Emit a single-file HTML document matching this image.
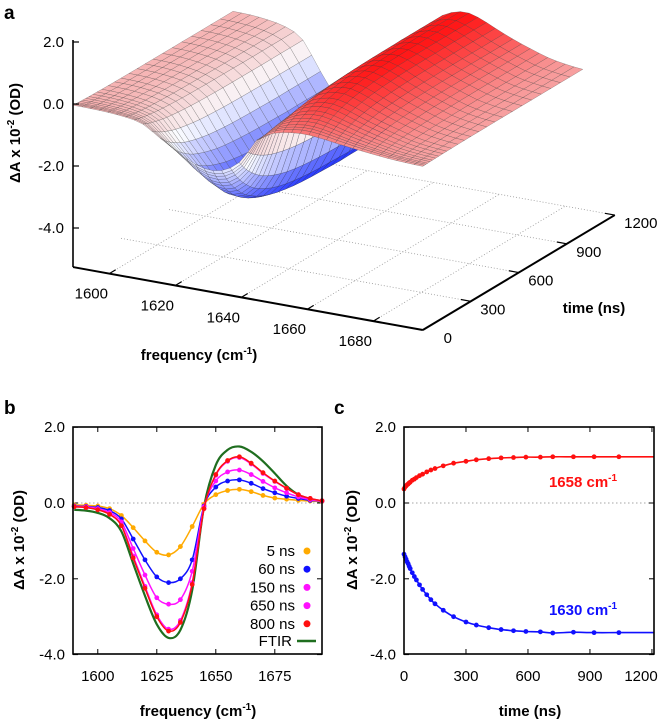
<!DOCTYPE html>
<html><head><meta charset="utf-8"><style>
html,body{margin:0;padding:0;background:#fff;}
svg{display:block;font-family:"Liberation Sans",sans-serif;}
.tk{font-size:15px;fill:#000;}
.tt{font-size:15px;font-weight:bold;fill:#000;}
.pl{font-size:19px;font-weight:bold;fill:#000;}
</style></head><body>
<svg id="fig" width="663" height="721" viewBox="0 0 663 721" xmlns="http://www.w3.org/2000/svg">
<text class="pl" x="4" y="19">a</text>
<text class="pl" x="4" y="414">b</text>
<text class="pl" x="334" y="414">c</text>
<g id="pa"></g>
<g id="pb"></g>
<g id="pc"></g>
</svg>
<script>
// ---- data ----
const freqs = [1590,1595,1600,1605,1610,1615,1620,1625,1630,1635,1640,1645,1650,1655,1660,1665,1670,1675,1680,1685,1690,1695];
const s5ns   = [-0.05,-0.06,-0.08,-0.15,-0.33,-0.65,-1.0,-1.3,-1.37,-1.15,-0.62,-0.03,0.22,0.33,0.36,0.3,0.2,0.13,0.1,0.07,0.05,0.04];
const s60ns  = [-0.08,-0.09,-0.12,-0.2,-0.42,-0.95,-1.5,-1.95,-2.1,-2.0,-1.5,-0.08,0.42,0.58,0.61,0.52,0.38,0.27,0.18,0.12,0.07,0.05];
const s150ns = [-0.09,-0.1,-0.15,-0.25,-0.5,-1.2,-1.9,-2.5,-2.67,-2.55,-1.8,-0.1,0.58,0.82,0.87,0.75,0.57,0.4,0.27,0.16,0.09,0.05];
const s650ns = [-0.1,-0.12,-0.17,-0.29,-0.58,-1.4,-2.2,-2.95,-3.33,-3.1,-2.1,-0.15,0.73,1.1,1.2,1.03,0.78,0.57,0.38,0.22,0.12,0.06];
const s800ns = [-0.1,-0.12,-0.18,-0.3,-0.6,-1.45,-2.25,-3.0,-3.38,-3.15,-2.15,-0.15,0.75,1.12,1.22,1.05,0.8,0.58,0.39,0.22,0.12,0.06];
const ftir   = [-0.18,-0.2,-0.26,-0.4,-0.75,-1.6,-2.45,-3.2,-3.56,-3.35,-2.3,-0.1,1.0,1.4,1.49,1.35,1.1,0.78,0.45,0.22,0.1,0.02];
const times = [0,5,10,15,20,25,30,40,50,60,75,90,110,130,150,190,240,300,350,410,470,530,590,660,720,820,920,1040];
const k1658 = [0.37,0.42,0.45,0.48,0.5,0.53,0.55,0.6,0.63,0.67,0.72,0.76,0.82,0.87,0.91,0.98,1.05,1.1,1.14,1.17,1.19,1.2,1.21,1.21,1.22,1.22,1.22,1.22];
const k1630 = [-1.35,-1.42,-1.48,-1.55,-1.6,-1.67,-1.73,-1.84,-1.94,-2.03,-2.16,-2.28,-2.42,-2.55,-2.66,-2.83,-3.0,-3.14,-3.22,-3.29,-3.34,-3.37,-3.39,-3.4,-3.43,-3.41,-3.42,-3.42];
const yTicks = [2,0,-2,-4];
const yTickLabels = ["2.0","0.0","-2.0","-4.0"];
const bTicks = [1600,1625,1650,1675];
const cTicks = [0,300,600,900,1200];
const aFreqTicks = [1600,1620,1640,1660,1680];
const aTimeTicks = [0,300,600,900,1200];

const NS="http://www.w3.org/2000/svg";
function mk(parent,tag,attrs,txt){const e=document.createElementNS(NS,tag);for(const k in attrs)e.setAttribute(k,attrs[k]);if(txt!==undefined)e.textContent=txt;parent.appendChild(e);return e;}
function cat(pts){let d="M"+pts[0][0].toFixed(1)+","+pts[0][1].toFixed(1);for(let i=0;i<pts.length-1;i++){const p0=pts[Math.max(0,i-1)],p1=pts[i],p2=pts[i+1],p3=pts[Math.min(pts.length-1,i+2)];d+="C"+(p1[0]+(p2[0]-p0[0])/6).toFixed(1)+","+(p1[1]+(p2[1]-p0[1])/6).toFixed(1)+" "+(p2[0]-(p3[0]-p1[0])/6).toFixed(1)+","+(p2[1]-(p3[1]-p1[1])/6).toFixed(1)+" "+p2[0].toFixed(1)+","+p2[1].toFixed(1);}return d;}
function interp(xs,ys,x){if(x<=xs[0])return ys[0];for(let i=0;i<xs.length-1;i++){if(x<=xs[i+1]){const u=(x-xs[i])/(xs[i+1]-xs[i]);return ys[i]+u*(ys[i+1]-ys[i]);}}return ys[ys.length-1];}
function interpC(xs,ys,x){if(x<=xs[0])return ys[0];const n=xs.length;for(let i=0;i<n-1;i++){if(x<=xs[i+1]){const u=(x-xs[i])/(xs[i+1]-xs[i]);const p0=ys[Math.max(0,i-1)],p1=ys[i],p2=ys[i+1],p3=ys[Math.min(n-1,i+2)];return 0.5*((2*p1)+(-p0+p2)*u+(2*p0-5*p1+4*p2-p3)*u*u+(-p0+3*p1-3*p2+p3)*u*u*u);}}return ys[n-1];}

// ---- panel b ----
const pb=document.getElementById('pb');
const xb=f=>73+(f-1589.5)*(249/105.5);
const yv=v=>503-v*37.9;
function frame(g,L,R,name){
  mk(g,'line',{x1:L,x2:R,y1:yv(0),y2:yv(0),stroke:'#888','stroke-width':0.8,'stroke-dasharray':'1.5,2.5',});
  yTicks.forEach((v,i)=>{
    mk(g,'line',{x1:L,x2:L+5,y1:yv(v),y2:yv(v),stroke:'#000','stroke-width':1});
    mk(g,'line',{x1:R,x2:R-5,y1:yv(v),y2:yv(v),stroke:'#000','stroke-width':1});
    mk(g,'text',{class:'tk',x:L-8,y:yv(v)+5,'text-anchor':'end',},yTickLabels[i]);
  });
}
frame(pb,73,322,'panel-b');
bTicks.forEach(f=>{
  mk(pb,'line',{x1:xb(f),x2:xb(f),y1:654,y2:649,stroke:'#000'});
  mk(pb,'line',{x1:xb(f),x2:xb(f),y1:427,y2:432,stroke:'#000'});
  mk(pb,'text',{class:'tk',x:xb(f),y:681,'text-anchor':'middle',},String(f));
});
const series=[[ftir,'#1f6e1f','ftir'],[s5ns,'#ffaa00','5ns'],[s60ns,'#1010ff','60ns'],[s150ns,'#ff10ff','150ns'],[s650ns,'#ff10ff','650ns'],[s800ns,'#ff1010','800ns']];
series.forEach(([arr,col,nm])=>{
  const pts=freqs.map((f,i)=>[xb(f),yv(arr[i])]);
  const p=mk(pb,'path',{d:cat(pts),fill:'none',stroke:col,'stroke-width':nm==='ftir'?2.2:1.5});
  
  
  if(nm!=='ftir') pts.forEach(q=>{const c=mk(pb,'circle',{cx:q[0],cy:q[1],r:2.4,fill:col});});
});
mk(pb,'rect',{x:73,y:427,width:249,height:227,fill:'none',stroke:'#000','stroke-width':1.6,});
const legend=[['5 ns','#ffaa00'],['60 ns','#1010ff'],['150 ns','#ff10ff'],['650 ns','#ff10ff'],['800 ns','#ff1010']];
legend.forEach(([t,c],i)=>{
  const y=551+i*18.2;
  mk(pb,'text',{class:'tk',x:295,y:y+5,'text-anchor':'end',},t);
  mk(pb,'circle',{cx:307,cy:y,r:3.5,fill:c,});
});
mk(pb,'text',{class:'tk',x:292,y:646,'text-anchor':'end',},'FTIR');
mk(pb,'line',{x1:297,x2:316,y1:641,y2:641,stroke:'#1f6e1f','stroke-width':2.5,});
mk(pb,'text',{class:'tt',x:198,y:716,'text-anchor':'middle',}).innerHTML='frequency (cm<tspan dy="-6" font-size="10">-1</tspan><tspan dy="6">)</tspan>';
mk(pb,'text',{class:'tt',x:0,y:0,transform:'translate(24,540) rotate(-90)','text-anchor':'middle',}).innerHTML='ΔA x 10<tspan dy="-6" font-size="10">-2</tspan><tspan dy="6"> (OD)</tspan>';

// ---- panel c ----
const pc=document.getElementById('pc');
const xc=t=>404+t*250/1210;
frame(pc,404,654,'panel-c');
cTicks.forEach(t=>{
  mk(pc,'line',{x1:xc(t),x2:xc(t),y1:654,y2:649,stroke:'#000'});
  mk(pc,'line',{x1:xc(t),x2:xc(t),y1:427,y2:432,stroke:'#000'});
  mk(pc,'text',{class:'tk',x:t===1200?Math.min(xc(t),641):xc(t),y:681,'text-anchor':'middle',},String(t));
});
[[k1658,'#ff1010','1658'],[k1630,'#1010ff','1630']].forEach(([arr,col,nm])=>{
  const pts=times.map((t,i)=>[xc(t),yv(arr[i])]);
  pts.push([654,yv(arr[arr.length-1])]);
  const p=mk(pc,'path',{d:cat(pts),fill:'none',stroke:col,'stroke-width':1.6});
  
  
  times.forEach((t,i)=>{const c=mk(pc,'circle',{cx:xc(t),cy:yv(arr[i]),r:2.4,fill:col});});
});
mk(pc,'rect',{x:404,y:427,width:250,height:227,fill:'none',stroke:'#000','stroke-width':1.6,});
mk(pc,'text',{class:'tt',x:583,y:487,'text-anchor':'middle',style:'fill:#ff1010',}).innerHTML='1658 cm<tspan dy="-6" font-size="10">-1</tspan>';
mk(pc,'text',{class:'tt',x:583,y:615,'text-anchor':'middle',style:'fill:#1010ff',}).innerHTML='1630 cm<tspan dy="-6" font-size="10">-1</tspan>';
mk(pc,'text',{class:'tt',x:530,y:716,'text-anchor':'middle',},'time (ns)');
mk(pc,'text',{class:'tt',x:0,y:0,transform:'translate(357,540) rotate(-90)','text-anchor':'middle',}).innerHTML='ΔA x 10<tspan dy="-6" font-size="10">-2</tspan><tspan dy="6"> (OD)</tspan>';

// ---- panel a ----
const pa=document.getElementById('pa');
const ZF=-5.26;
const P=(f,t,z)=>[73+(f-1589)*3.3+t*0.16,104+(f-1589)*0.594-t*0.0958-z*31];
aFreqTicks.forEach(f=>{const a=P(f,0,ZF),b=P(f,1200,ZF);mk(pa,'line',{x1:a[0],y1:a[1],x2:b[0],y2:b[1],stroke:'#999','stroke-width':0.8,'stroke-dasharray':'1,2',});});
aTimeTicks.slice(1).forEach(t=>{const a=P(1589,t,ZF),b=P(1695,t,ZF);mk(pa,'line',{x1:a[0],y1:a[1],x2:b[0],y2:b[1],stroke:'#999','stroke-width':0.8,'stroke-dasharray':'1,2',});});
function zAt(f,t){const s=interpC(freqs,s800ns,f);const ns=interp(times,k1630,t)/k1630[k1630.length-1];const ps=interp(times,k1658,t)/k1658[k1658.length-1];return s<0?s*ns:s*ps;}
function col(z){let c;
  if(z>=-0.3){const u=Math.min(1,(z+0.3)/1.5);c=[245+10*u,205-185*u,205-185*u];}
  else if(z>=-1.0){const u=(z+0.3)/-0.7;c=[245+5*u,205+47*u,205+50*u];}
  else{const u=Math.min(1,(z+1.0)/-2.4);c=[250-240*u,252-222*u,255];}
  return 'rgb('+c.map(v=>Math.round(v)).join(',')+')';}
const sf=[];for(let f=1589;f<=1695.01;f+=2.65)sf.push(f);
const st=[0,10,20,30,45,60,80,100,125,150,180,220,260,300,350,400,450,500,560,620,680,740,800,860,920,1000];
const quads=[];
for(let i=0;i<sf.length-1;i++)for(let j=0;j<st.length-1;j++){
  const c=[[sf[i],st[j]],[sf[i+1],st[j]],[sf[i+1],st[j+1]],[sf[i],st[j+1]]];
  const zs=c.map(p=>zAt(p[0],p[1]));
  const fm=(sf[i]+sf[i+1])/2,tm=(st[j]+st[j+1])/2;
  quads.push({pts:c.map((p,k)=>P(p[0],p[1],zs[k])),z:zs.reduce((a,b)=>a+b)/4,key:P(fm,tm,0)[1]});
}
quads.sort((a,b)=>a.key-b.key);
quads.forEach(q=>{const p=mk(pa,'polygon',{points:q.pts.map(p=>p[0].toFixed(1)+','+p[1].toFixed(1)).join(' '),fill:col(q.z),stroke:'rgba(50,50,50,0.55)','stroke-width':0.4});
  
  });
mk(pa,'line',{x1:73,y1:267,x2:73,y2:40,stroke:'#000','stroke-width':1.6,});
yTicks.forEach((v,i)=>{const y=104-v*31;mk(pa,'line',{x1:73,x2:79,y1:y,y2:y,stroke:'#000','stroke-width':1.2});
  mk(pa,'text',{class:'tk',x:64,y:y+5,'text-anchor':'end',},yTickLabels[i]);});
const o=P(1589,0,ZF),e1=P(1695,0,ZF),e2=P(1695,1200,ZF);
mk(pa,'line',{x1:o[0],y1:o[1],x2:e1[0],y2:e1[1],stroke:'#000','stroke-width':2,});
mk(pa,'line',{x1:e1[0],y1:e1[1],x2:e2[0],y2:e2[1],stroke:'#000','stroke-width':2,});
aFreqTicks.forEach(f=>{const a=P(f,0,ZF),b=P(f,40,ZF);mk(pa,'line',{x1:a[0],y1:a[1],x2:b[0],y2:b[1],stroke:'#000','stroke-width':1.2});
  mk(pa,'text',{class:'tk',x:a[0]-18,y:a[1]+25,'text-anchor':'middle',},String(f));});
aTimeTicks.forEach(t=>{const a=P(1695,t,ZF),b=P(1692,t,ZF);mk(pa,'line',{x1:a[0],y1:a[1],x2:b[0],y2:b[1],stroke:'#000','stroke-width':1.2});
  mk(pa,'text',{class:'tk',x:a[0]+(t===0?25:t===1200?26:22),y:a[1]+13,'text-anchor':'middle',},String(t));});
mk(pa,'text',{class:'tt',x:594,y:313,'text-anchor':'middle',},'time (ns)');
mk(pa,'text',{class:'tt',x:199,y:360,'text-anchor':'middle',}).innerHTML='frequency (cm<tspan dy="-6" font-size="10">-1</tspan><tspan dy="6">)</tspan>';
mk(pa,'text',{class:'tt',x:0,y:0,transform:'translate(20,133) rotate(-90)','text-anchor':'middle',}).innerHTML='ΔA x 10<tspan dy="-6" font-size="10">-2</tspan><tspan dy="6"> (OD)</tspan>';
</script>
</body></html>
